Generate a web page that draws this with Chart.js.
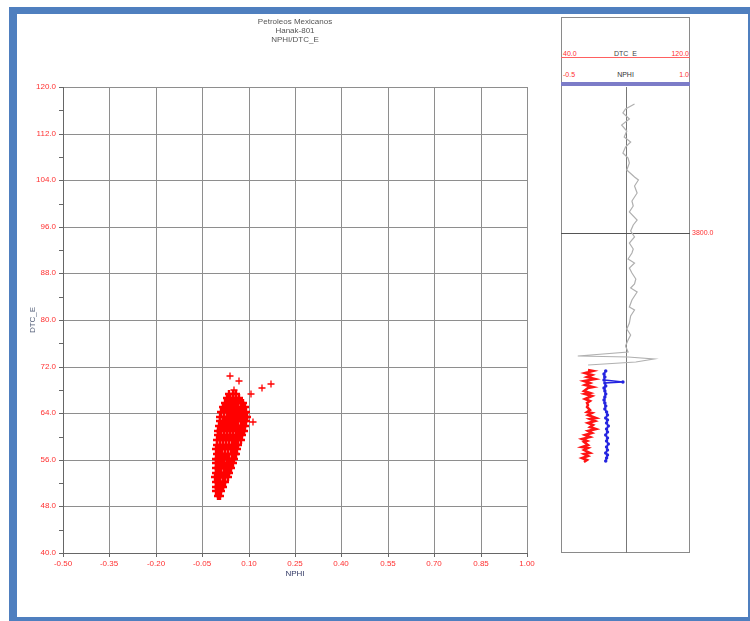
<!DOCTYPE html>
<html>
<head>
<meta charset="utf-8">
<script src="https://cdn.jsdelivr.net/npm/chart.js@4/dist/chart.umd.min.js"></script>
<style>
  body { margin: 0; width: 750px; height: 621px; overflow: hidden; background: #fff; position: relative;
         font-family: Arial, "Liberation Sans", sans-serif; }
  .marco { position: absolute; left: 9px; top: 7px; width: 747px; height: 618px; box-sizing: border-box;
           border: 8px solid #4f7fbf; border-top-width: 7px; }
  #grafico { position: absolute; left: 0; top: 0; }
  #pista { position: absolute; left: 555px; top: 14px; }
  .caja { position: absolute; left: 561px; top: 17px; width: 129px; height: 536px; box-sizing: border-box;
          border: 1px solid #8a8a8a; }
  .txt { position: absolute; font-size: 7px; line-height: 8px; white-space: nowrap; }
  .rojo { color: #ff3030; }
  .linea { position: absolute; left: 561px; width: 129px; }
</style>
</head>
<body>
<div class="marco"></div>
<div class="caja"></div>
<div class="txt rojo" style="left:563px; top:50px;">40.0</div>
<div class="txt" style="left:561px; top:50px; width:129px; text-align:center; color:#444;">DTC_E</div>
<div class="txt rojo" style="left:640px; top:50px; width:49px; text-align:right;">120.0</div>
<div class="linea" style="top:57px; height:1px; background:#ff6060;"></div>
<div class="txt rojo" style="left:563px; top:71px;">-0.5</div>
<div class="txt" style="left:561px; top:71px; width:129px; text-align:center; color:#333;">NPHI</div>
<div class="txt rojo" style="left:640px; top:71px; width:49px; text-align:right;">1.0</div>
<div class="linea" style="top:82px; height:4px; background:#7c7cc8;"></div>
<canvas id="grafico" width="560" height="600"></canvas>
<canvas id="pista" width="190" height="560"></canvas>
<script>
// ejes del crossplot
const nphiTicks = [-0.50, -0.35, -0.20, -0.05, 0.10, 0.25, 0.40, 0.55, 0.70, 0.85, 1.00];
const dtcTicks = [40, 48, 56, 64, 72, 80, 88, 96, 104, 112, 120];

// nube de puntos NPHI vs DTC_E, por filas de DTC_E
const clusterDTC = [49.8, 50.6, 51.4, 52.2, 53.0, 53.8, 54.6, 55.4, 56.2, 57.0, 57.8, 58.6,
                    59.4, 60.2, 61.0, 61.8, 62.6, 63.4, 64.2, 65.0, 65.8, 66.6, 67.3];
const clusterNPHI = [
  [0.000, 0.007],
  [-0.004, 0.004, 0.012],
  [-0.006, 0.002, 0.010, 0.018],
  [-0.007, 0.001, 0.009, 0.017, 0.025],
  [-0.008, 0.000, 0.008, 0.016, 0.024, 0.032],
  [-0.006, 0.003, 0.012, 0.020, 0.029, 0.037],
  [-0.007, 0.001, 0.010, 0.019, 0.028, 0.036, 0.042],
  [-0.005, 0.004, 0.013, 0.022, 0.031, 0.040, 0.048],
  [-0.006, 0.002, 0.011, 0.020, 0.029, 0.038, 0.047, 0.054],
  [-0.003, 0.006, 0.015, 0.025, 0.035, 0.045, 0.055, 0.060],
  [-0.004, 0.004, 0.013, 0.023, 0.033, 0.043, 0.053, 0.063],
  [-0.001, 0.008, 0.018, 0.028, 0.038, 0.048, 0.058, 0.067],
  [-0.002, 0.007, 0.016, 0.026, 0.036, 0.046, 0.056, 0.066, 0.074],
  [0.002, 0.011, 0.021, 0.031, 0.041, 0.051, 0.061, 0.071, 0.080],
  [0.000, 0.009, 0.019, 0.029, 0.039, 0.049, 0.059, 0.069, 0.078, 0.085],
  [0.004, 0.014, 0.024, 0.034, 0.044, 0.054, 0.064, 0.074, 0.083, 0.089],
  [0.006, 0.016, 0.026, 0.036, 0.046, 0.056, 0.066, 0.076, 0.085, 0.092],
  [0.009, 0.019, 0.029, 0.039, 0.049, 0.059, 0.069, 0.079, 0.088, 0.094],
  [0.012, 0.022, 0.032, 0.042, 0.052, 0.062, 0.072, 0.082, 0.091],
  [0.017, 0.027, 0.037, 0.047, 0.057, 0.067, 0.077, 0.087],
  [0.024, 0.034, 0.044, 0.054, 0.064, 0.074, 0.082],
  [0.030, 0.040, 0.050, 0.060, 0.070],
  [0.036, 0.048, 0.060]
];
const outlierNPHI = [0.040, 0.069, 0.053, 0.143, 0.172, 0.108, 0.114];
const outlierDTC = [70.4, 69.5, 68.0, 68.3, 69.0, 67.3, 62.5];

// pista de registros (profundidad)
const depthMarks = [3800];
const grayDepth = [3712, 3715, 3718, 3722, 3726, 3730, 3734, 3738, 3741, 3745, 3749, 3752, 3757, 3762,
                   3764, 3768, 3773, 3778, 3782, 3786, 3791, 3795, 3799, 3803, 3807, 3811, 3814, 3818,
                   3821, 3824, 3828, 3832, 3835, 3838, 3841, 3846, 3851, 3853, 3857, 3862, 3866, 3870,
                   3874, 3878, 3882, 3885, 3885.4, 3887, 3889, 3891];
const grayValue = [0.57, 0.50, 0.48, 0.53, 0.47, 0.51, 0.49, 0.54, 0.50, 0.48, 0.52, 0.53, 0.51, 0.57,
                   0.60, 0.57, 0.59, 0.55, 0.56, 0.53, 0.59, 0.56, 0.54, 0.57, 0.53, 0.56, 0.55, 0.52,
                   0.57, 0.53, 0.55, 0.58, 0.57, 0.54, 0.59, 0.55, 0.53, 0.57, 0.54, 0.53, 0.51, 0.54,
                   0.52, 0.50, 0.52, 0.13, 0.52, 0.72, 0.58, 0.21];
const dtcDepth = [3894, 3895, 3896.5, 3898, 3899, 3900.5, 3902, 3903, 3904.5, 3906, 3907, 3908.5, 3910,
                  3911, 3912.5, 3914, 3915.5, 3917, 3918.5, 3920, 3921.5, 3923, 3924, 3925.5, 3927,
                  3928, 3929.5, 3931, 3932, 3933.5, 3935, 3936, 3937.5, 3939, 3940, 3941.5, 3943,
                  3944, 3945.5, 3947, 3948, 3949.5, 3951, 3952, 3953.5, 3955, 3956, 3957.5];
const dtcLog = [57, 60, 55, 59, 56, 61, 54, 58, 55, 60, 57, 54, 58, 55, 59, 55, 58, 56,
                57, 56, 58, 56, 59, 57, 62, 58, 61, 57, 60, 58, 62, 57, 59, 55, 58, 53,
                56, 54, 57, 53, 57, 54, 58, 54, 57, 53, 56, 54];
const nphiDepth = [3895, 3897, 3899, 3901, 3902.5, 3903, 3905, 3907, 3909, 3911, 3913, 3915, 3917, 3919,
                   3921, 3923, 3925, 3927, 3929, 3931, 3933, 3935, 3937, 3939, 3941, 3943, 3945, 3947,
                   3949, 3951, 3953, 3955, 3957];
const nphiLog = [0.02, 0.00, 0.01, 0.00, 0.22, 0.01, 0.02, 0.00, 0.01, 0.02, 0.01, 0.00, 0.01, 0.02,
                 0.01, 0.03, 0.04, 0.02, 0.04, 0.03, 0.05, 0.03, 0.04, 0.02, 0.04, 0.03, 0.05, 0.03,
                 0.04, 0.02, 0.04, 0.03, 0.02];

const rojo = 'rgb(255,48,48)';
const gris = '#8e8e8e';

const puntos = [];
clusterDTC.forEach((dtc, i) => {
  clusterNPHI[i].forEach((n) => puntos.push({ x: n, y: dtc }));
});
const sueltos = outlierNPHI.map((n, i) => ({ x: n, y: outlierDTC[i] }));

const dtcMinor = [];
dtcTicks.forEach((v, i) => {
  dtcMinor.push(v);
  if (i < dtcTicks.length - 1) dtcMinor.push(v + 4);
});

new Chart(document.getElementById('grafico'), {
  type: 'scatter',
  data: {
    datasets: [
      {
        label: 'NPHI/DTC_E',
        data: puntos,
        pointStyle: 'cross',
        pointRadius: 4,
        borderWidth: 2.4,
        borderColor: 'rgb(255,0,0)',
        backgroundColor: 'rgb(255,0,0)',
      },
      {
        label: 'NPHI/DTC_E sueltos',
        data: sueltos,
        pointStyle: 'cross',
        pointRadius: 3.5,
        borderWidth: 1.3,
        borderColor: 'rgb(255,0,0)',
        backgroundColor: 'rgb(255,0,0)',
      },
    ],
  },
  options: {
    responsive: false,
    animation: false,
    layout: { padding: { left: 0, right: 33, top: 17, bottom: 21 } },
    plugins: {
      legend: { display: false },
      tooltip: { enabled: false },
      title: {
        display: true,
        fullSize: false,
        text: ['Petroleos Mexicanos', 'Hanak-801', 'NPHI/DTC_E'],
        color: '#555',
        font: { family: 'Arial', size: 8, weight: 'normal', lineHeight: 1.125 },
        padding: { top: 0, bottom: 43 },
      },
    },
    scales: {
      x: {
        type: 'linear',
        min: -0.5,
        max: 1.0,
        alignToPixels: true,
        afterBuildTicks: (scale) => { scale.ticks = nphiTicks.map((v) => ({ value: v })); },
        afterFit: (scale) => { scale.height = 26; },
        grid: { color: gris, tickColor: '#666', tickLength: 4 },
        border: { color: '#666' },
        ticks: {
          color: rojo,
          padding: 2,
          maxRotation: 0,
          font: { family: 'Arial', size: 8 },
          callback: (v) => Number(v).toFixed(2),
        },
        title: {
          display: true,
          text: 'NPHI',
          color: '#333a66',
          padding: 0,
          font: { family: 'Arial', size: 8 },
        },
      },
      y: {
        type: 'linear',
        min: 40,
        max: 120,
        alignToPixels: true,
        afterBuildTicks: (scale) => { scale.ticks = dtcMinor.map((v) => ({ value: v })); },
        afterFit: (scale) => { scale.width = 63; },
        grid: {
          color: (c) => (dtcTicks.includes(c.tick.value) ? gris : 'rgba(0,0,0,0)'),
          tickColor: '#666',
          tickLength: 4,
        },
        border: { color: '#666' },
        ticks: {
          color: rojo,
          padding: 3,
          font: { family: 'Arial', size: 8 },
          callback: (v) => (dtcTicks.includes(v) ? Number(v).toFixed(1) : ''),
        },
        title: {
          display: true,
          text: 'DTC_E',
          color: '#55607a',
          padding: { top: 28, bottom: 0 },
          font: { family: 'Arial', size: 8 },
        },
      },
    },
  },
});

const xy = (xs, ys) => xs.map((v, i) => ({ x: v, y: ys[i] }));

new Chart(document.getElementById('pista'), {
  type: 'scatter',
  data: {
    datasets: [
      {
        label: 'Curva',
        data: xy(grayValue, grayDepth),
        xAxisID: 'xRef',
        showLine: true,
        pointRadius: 0,
        borderColor: '#b0b0b0',
        borderWidth: 1.2,
      },
      {
        label: 'DTC_E',
        data: xy(dtcLog, dtcDepth),
        xAxisID: 'xDtc',
        showLine: true,
        pointRadius: 0,
        borderColor: 'rgb(255,20,20)',
        borderWidth: 2.5,
      },
      {
        label: 'NPHI',
        data: xy(nphiLog, nphiDepth),
        xAxisID: 'xNphi',
        showLine: true,
        pointRadius: 1,
        pointBackgroundColor: '#2020e0',
        borderColor: '#2525e0',
        borderWidth: 1.5,
      },
    ],
  },
  options: {
    responsive: false,
    animation: false,
    layout: { padding: { left: 6, right: 25, top: 73, bottom: 21 } },
    plugins: { legend: { display: false }, tooltip: { enabled: false } },
    scales: {
      xDtc: {
        type: 'linear',
        position: 'top',
        min: 40,
        max: 120,
        alignToPixels: true,
        afterBuildTicks: (scale) => { scale.ticks = [{ value: 80 }]; },
        afterFit: (scale) => { scale.height = 0; },
        grid: { color: '#777', drawTicks: false },
        border: { display: false },
        ticks: { display: false },
      },
      xNphi: { type: 'linear', min: -0.5, max: 1.0, display: false },
      xRef: { type: 'linear', min: 0, max: 1, display: false },
      y: {
        type: 'linear',
        position: 'right',
        min: 3700,
        max: 4020,
        reverse: true,
        alignToPixels: true,
        afterBuildTicks: (scale) => { scale.ticks = depthMarks.map((v) => ({ value: v })); },
        afterFit: (scale) => { scale.width = 30; },
        grid: { color: '#555', drawTicks: false },
        border: { display: false },
        ticks: {
          color: rojo,
          padding: 2,
          font: { family: 'Arial', size: 7 },
          callback: (v) => Number(v).toFixed(1),
        },
      },
    },
  },
});
</script>
</body>
</html>
